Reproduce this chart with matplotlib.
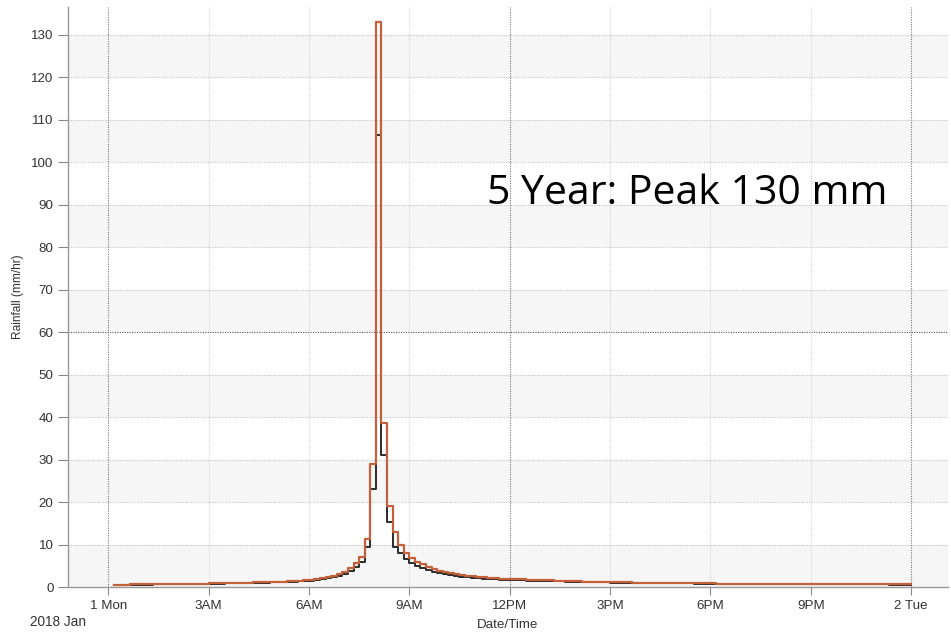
import matplotlib
matplotlib.use('Agg')
import matplotlib.pyplot as plt
import numpy as np

plt.rcParams['font.family'] = ['Liberation Sans', 'DejaVu Sans']

# 10-minute rainfall intensities (mm/hr), bins ending 0:10 ... 24:00
rain_orange = [
    0.55, 0.56, 0.57, 0.58, 0.59, 0.60, 0.62, 0.63, 0.65, 0.66, 0.68, 0.70,
    0.72, 0.74, 0.76, 0.78, 0.80, 0.82, 0.85, 0.87, 0.90, 0.92, 0.95, 0.98,
    1.01, 1.04, 1.08, 1.11, 1.15, 1.19, 1.24, 1.29, 1.34, 1.40, 1.47, 1.55,
    1.70, 1.90, 2.10, 2.40, 2.70, 3.10, 3.60, 4.40, 5.60, 7.10, 11.2, 29.0,
    133.0, 38.7, 19.1, 12.9, 10.0, 8.0, 6.9, 6.0, 5.3, 4.7, 4.2, 3.8,
    3.5, 3.25, 3.0, 2.8, 2.65, 2.5, 2.4, 2.3, 2.2, 2.1, 2.0, 1.95,
    1.88, 1.82, 1.77, 1.72, 1.67, 1.62, 1.58, 1.54, 1.50, 1.46, 1.42, 1.39,
    1.30, 1.27, 1.24, 1.21, 1.18, 1.15, 1.12, 1.10, 1.08, 1.06, 1.04, 1.02,
    1.00, 0.98, 0.96, 0.95, 0.93, 0.92, 0.90, 0.89, 0.88, 0.86, 0.85, 0.84,
    0.83, 0.82, 0.81, 0.80, 0.79, 0.78, 0.77, 0.76, 0.75, 0.74, 0.74, 0.73,
    0.72, 0.71, 0.71, 0.70, 0.69, 0.69, 0.68, 0.67, 0.67, 0.66, 0.66, 0.65,
    0.65, 0.64, 0.64, 0.63, 0.63, 0.62, 0.62, 0.61, 0.61, 0.60, 0.60, 0.59,
]
rain_black = [
    0.50, 0.51, 0.52, 0.53, 0.54, 0.55, 0.56, 0.57, 0.59, 0.60, 0.62, 0.63,
    0.65, 0.67, 0.69, 0.70, 0.72, 0.74, 0.77, 0.79, 0.81, 0.83, 0.86, 0.88,
    0.91, 0.94, 0.97, 1.00, 1.04, 1.07, 1.12, 1.16, 1.21, 1.26, 1.32, 1.40,
    1.50, 1.65, 1.85, 2.10, 2.35, 2.70, 3.10, 3.80, 4.80, 6.00, 9.5, 23.1,
    106.4, 31.0, 15.4, 9.5, 8.0, 6.6, 5.7, 5.0, 4.4, 3.9, 3.5, 3.2,
    2.95, 2.75, 2.55, 2.4, 2.27, 2.15, 2.05, 1.96, 1.88, 1.81, 1.74, 1.68,
    1.63, 1.58, 1.54, 1.50, 1.46, 1.42, 1.39, 1.36, 1.33, 1.30, 1.27, 1.24,
    1.19, 1.16, 1.14, 1.11, 1.09, 1.06, 1.04, 1.02, 1.00, 0.98, 0.97, 0.95,
    0.93, 0.92, 0.90, 0.89, 0.87, 0.86, 0.85, 0.84, 0.83, 0.81, 0.80, 0.79,
    0.78, 0.77, 0.77, 0.76, 0.75, 0.74, 0.73, 0.72, 0.72, 0.71, 0.70, 0.70,
    0.69, 0.68, 0.68, 0.67, 0.67, 0.66, 0.65, 0.65, 0.64, 0.64, 0.63, 0.63,
    0.62, 0.62, 0.61, 0.61, 0.60, 0.60, 0.59, 0.59, 0.58, 0.58, 0.58, 0.57,
]
tick_hours = [0, 3, 6, 9, 12, 15, 18, 21, 24]
tick_labels = ['1 Mon', '3AM', '6AM', '9AM', '12PM', '3PM', '6PM', '9PM', '2 Tue']

hours = np.arange(1, len(rain_orange) + 1) * 10 / 60.0

fig = plt.figure(figsize=(9.51, 6.34), dpi=100)
ax = fig.add_axes([68 / 951, 47 / 634, 880 / 951, 580 / 634])

# alternating bands
for lo in range(0, 130, 20):
    ax.axhspan(lo, lo + 10, color='#f6f6f6', zorder=0, lw=0)

for y in range(10, 140, 10):
    c = '#555555' if y == 60 else '#c4c4c4'
    ax.axhline(y, color=c, ls=(0, (1, 1.2)), lw=0.8, zorder=1)
for h in tick_hours:
    c = '#777777' if h in (0, 12, 24) else '#d4d4d4'
    ax.axvline(h, color=c, ls=(0, (1, 1.2)), lw=0.8, zorder=1)

ax.step(hours, rain_black, where='pre', color='#2b2b2b', lw=1.4, zorder=3)
ax.step(hours, rain_orange, where='pre', color='#c4603a', lw=1.6, zorder=4)

ax.set_xlim(-1.2, 25.1)
ax.set_ylim(0, 136.5)
ax.set_yticks(range(0, 140, 10))
ax.set_xticks(tick_hours)
ax.set_xticklabels(tick_labels)
ax.tick_params(axis='both', colors='#888888', labelcolor='#333333', labelsize=9.6, length=7, width=0.8)
ax.tick_params(axis='x', length=6)

for s in ('top', 'right'):
    ax.spines[s].set_visible(False)
for s in ('left', 'bottom'):
    ax.spines[s].set_color('#999999')
    ax.spines[s].set_linewidth(1.0)

ax.set_ylabel('Rainfall (mm/hr)', fontsize=8.6, color='#333333', labelpad=5)
ax.set_xlabel('Date/Time', fontsize=9.6, color='#333333', labelpad=5)
fig.text(30 / 951, 1 - 622 / 634, '2018 Jan', fontsize=9.8, color='#333333', va='center')

fig.text(487 / 951, 1 - 194 / 634, '5 Year: Peak 130 mm', fontsize=29.5,
         family=['Open Sans', 'DejaVu Sans'], color='black', va='center')

fig.savefig('out.png', dpi=100)
